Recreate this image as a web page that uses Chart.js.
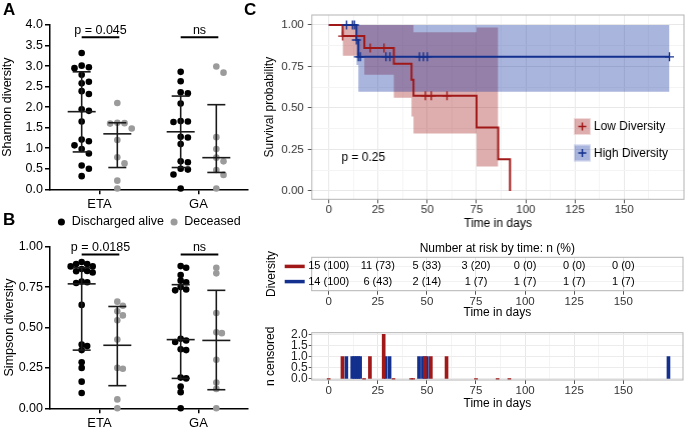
<!DOCTYPE html>
<html>
<head>
<meta charset="utf-8">
<title>Diversity and survival</title>
<script src="https://cdn.jsdelivr.net/npm/chart.js@4.4.1/dist/chart.umd.min.js"></script>
<style>
  html, body { margin: 0; padding: 0; background: #fff; }
  #fig { position: relative; width: 685px; height: 427px; overflow: hidden; }
  .cell { position: absolute; }
  .tag { position: absolute; font: bold 17px "Liberation Sans", Arial, sans-serif; color: #000; }
</style>
</head>
<body>
<div id="fig">
  <!-- a largura extra compensa o recuo que o Chart.js dá à direita nesses gráficos -->
  <div class="cell" style="left:0;top:0;width:252px;height:238.2px"><canvas id="shannon"></canvas></div>
  <div class="cell" style="left:0;top:212px;width:252px;height:215px"><canvas id="simpson"></canvas></div>
  <div class="cell" style="left:250px;top:0;width:438.9px;height:231px"><canvas id="km"></canvas></div>
  <div class="cell" style="left:250px;top:231px;width:435px;height:89px"><canvas id="risk"></canvas></div>
  <div class="cell" style="left:250px;top:320px;width:435px;height:91px"><canvas id="censor"></canvas></div>
  <div class="tag" style="left:3px;top:0">A</div>
  <div class="tag" style="left:3px;top:210px">B</div>
  <div class="tag" style="left:244px;top:0">C</div>
</div>
<script>
// Painéis A/B: diversidade por grupo (pontos + mediana e IQR).
// Painel C: Kaplan-Meier por diversidade, tabela de risco e censuras.

const FONT = '"Liberation Sans", Arial, sans-serif';
Chart.defaults.font.family = FONT;
Chart.defaults.color = '#000';

// ---- dados dos painéis A e B ----
const groupNames = ['ETA', 'GA'];
const outcomeNames = ['Discharged alive', 'Deceased'];
const outcomeColors = ['#000000', '#9b9b9b'];

const shannonEtaAlive = [3.32, 3.01, 2.97, 2.95, 2.79, 2.62, 2.58, 2.39, 2.32, 1.95, 1.91, 1.65, 1.21, 1.17, 1.07, 0.98, 0.87, 0.58, 0.50, 0.32];
const shannonEtaDeceased = [2.10, 1.62, 1.61, 1.60, 1.48, 1.20, 0.78, 0.63, 0.21, 0.02];
const shannonGaAlive = [2.86, 2.63, 2.36, 2.34, 2.09, 1.66, 1.65, 1.64, 1.28, 1.26, 1.10, 0.68, 0.66, 0.50, 0.48, 0.36, 0.02];
const shannonGaDeceased = [2.99, 2.84, 1.27, 0.98, 0.77, 0.68, 0.47, 0.35, 0.02];
const shannonMedian = [1.89, 1.35, 1.40, 0.77];
const shannonQ1 = [0.91, 0.53, 0.53, 0.41];
const shannonQ3 = [2.86, 1.62, 2.27, 2.06];
const shannonSig = ['p = 0.045', 'ns'];

const simpsonEtaAlive = [0.905, 0.893, 0.893, 0.878, 0.878, 0.862, 0.85, 0.848, 0.84, 0.785, 0.78, 0.775, 0.64, 0.395, 0.385, 0.36, 0.285, 0.25, 0.165, 0.095];
const simpsonEtaDeceased = [0.66, 0.635, 0.60, 0.575, 0.545, 0.425, 0.25, 0.245, 0.055, 0.0];
const simpsonGaAlive = [0.88, 0.87, 0.825, 0.79, 0.78, 0.75, 0.735, 0.73, 0.43, 0.42, 0.41, 0.365, 0.36, 0.19, 0.185, 0.135, 0.10, 0.0];
const simpsonGaDeceased = [0.87, 0.835, 0.59, 0.47, 0.465, 0.30, 0.16, 0.12, 0.0];
const simpsonMedian = [0.77, 0.39, 0.425, 0.42];
const simpsonQ1 = [0.36, 0.14, 0.185, 0.115];
const simpsonQ3 = [0.87, 0.63, 0.765, 0.73];
const simpsonSig = ['p = 0.0185', 'ns'];

// ---- dados do painel C ----
const seriesNames = ['Low Diversity', 'High Diversity'];
const kmTimeLow = [0, 7, 18, 33, 42, 43, 75, 86, 92];
const kmSurvLow = [1, 0.933, 0.862, 0.766, 0.670, 0.574, 0.383, 0.191, 0];
const kmTimeHigh = [0, 14, 15, 173];
const kmSurvHigh = [1, 0.909, 0.808, 0.808];
const ciTimeLow = [7, 18, 33, 42, 43, 75, 86];
const ciLowerLow = [0.815, 0.70, 0.562, 0.448, 0.347, 0.147, 0.147];
const ciUpperLow = [1, 1, 1, 1, 0.956, 0.984, 0.984];
const ciTimeHigh = [14, 15, 173];
const ciLowerHigh = [0.759, 0.598, 0.598];
const ciUpperHigh = [1, 1, 1];
const censorTimeLow = [7, 21, 28, 49, 52, 60];
const censorTimeHigh = [9, 12, 13, 14, 15, 16, 29, 31, 46, 48, 50, 173];
const nCensorTimeLow = [0, 7, 18, 21, 28, 33, 42, 43, 49, 52, 60, 75, 86, 92];
const nCensorLow = [0, 1, 0, 1, 2, 0, 0, 0, 1, 1, 1, 0, 0, 0];
const nCensorTimeHigh = [9, 12, 13, 14, 15, 16, 29, 31, 46, 48, 50, 173];
const nCensorHigh = [1, 1, 1, 1, 1, 1, 1, 1, 1, 1, 1, 1];
const riskTimes = [0, 25, 50, 75, 100, 125, 150];
const riskNLow = [15, 11, 5, 3, 0, 0, 0];
const riskPctLow = [100, 73, 33, 20, 0, 0, 0];
const riskNHigh = [14, 6, 2, 1, 1, 1, 1];
const riskPctHigh = [100, 43, 14, 7, 7, 7, 7];
const pValueText = 'p = 0.25';

const RED = '#a01818';
const BLUE = '#14308e';
const RED_BAND = 'rgba(160, 20, 20, 0.35)';
const BLUE_BAND = 'rgba(20, 50, 160, 0.36)';

// ---- painéis A e B ----
const columnX = [0.8, 1.7, 3.3, 4.2]; // ETA vivo, ETA óbito, GA vivo, GA óbito
const groupTickX = [1.25, 3.75];
const PX_PER_X = 198 / 5;

// espalha pontos de valor parecido lado a lado (beeswarm simples)
function swarm(values, pxPerY, dot) {
    const placed = [];
    const offsets = values.map(() => 0);
    const order = values.map((_, i) => i).sort((a, b) => values[b] - values[a]);
    order.forEach((i) => {
        const py = values[i] * pxPerY;
        for (let k = 0; k < 30; k++) {
            const px = Math.ceil(k / 2) * (k % 2 ? 1 : -1) * dot;
            if (placed.every((p) => (p.x - px) ** 2 + (p.y - py) ** 2 >= dot * dot)) {
                placed.push({ x: px, y: py });
                offsets[i] = px / PX_PER_X;
                break;
            }
        }
    });
    return offsets;
}

function medianPlugin(cfg) {
    return {
        id: 'medianIqr',
        afterDatasetsDraw(chart) {
            const { ctx, scales: { x, y } } = chart;
            const seg = (x0, y0, x1, y1) => { ctx.beginPath(); ctx.moveTo(x0, y0); ctx.lineTo(x1, y1); ctx.stroke(); };
            ctx.save();
            ctx.strokeStyle = '#1a1a1a';
            ctx.lineWidth = 1.6;
            cfg.median.forEach((m, i) => {
                const cx = x.getPixelForValue(columnX[i]);
                const a = y.getPixelForValue(cfg.q1[i]);
                const b = y.getPixelForValue(cfg.q3[i]);
                const c = y.getPixelForValue(m);
                seg(cx, a, cx, b);
                seg(cx - 9, a, cx + 9, a);
                seg(cx - 9, b, cx + 9, b);
                seg(cx - 14, c, cx + 14, c);
            });
            ctx.strokeStyle = '#000';
            ctx.lineWidth = 2;
            ctx.fillStyle = '#000';
            ctx.font = '12.5px ' + FONT;
            ctx.textAlign = 'center';
            ctx.textBaseline = 'alphabetic';
            cfg.sig.forEach((txt, g) => {
                const x0 = x.getPixelForValue(columnX[2 * g]);
                const x1 = x.getPixelForValue(columnX[2 * g + 1]) + 2;
                const yy = y.getPixelForValue(cfg.sigY);
                seg(x0, yy, x1, yy);
                ctx.fillText(txt, (x0 + x1) / 2, yy - 3);
            });
            ctx.restore();
        },
    };
}

function dotPlot(canvasId, cfg) {
    const byOutcome = [[], []];
    cfg.columns.forEach((values, col) => {
        const off = swarm(values, cfg.pxPerY, cfg.dot);
        values.forEach((v, i) => byOutcome[col % 2].push({ x: columnX[col] + off[i], y: v }));
    });
    const axisGrid = { drawOnChartArea: false, drawTicks: true, tickLength: 5, color: '#000', lineWidth: 1.5 };
    return new Chart(document.getElementById(canvasId), {
        type: 'scatter',
        data: {
            datasets: outcomeNames.map((name, k) => ({
                label: name,
                data: byOutcome[k],
                backgroundColor: outcomeColors[k],
                borderColor: outcomeColors[k],
                borderWidth: 0,
                pointRadius: 3.3,
                pointStyle: 'circle',
                clip: false,
            })),
        },
        options: {
            responsive: true,
            maintainAspectRatio: false,
            animation: false,
            events: [],
            layout: { padding: cfg.padding },
            plugins: { legend: cfg.legend, tooltip: { enabled: false } },
            scales: {
                x: {
                    type: 'linear', min: 0, max: 5,
                    afterBuildTicks: (s) => { s.ticks = groupTickX.map((v) => ({ value: v })); },
                    afterFit: (s) => { s.height = cfg.xHeight; },
                    ticks: { callback: (v, i) => groupNames[i], font: { size: 13 }, padding: 2, autoSkip: false, maxRotation: 0 },
                    grid: axisGrid,
                    border: { color: '#000', width: 1.5 },
                },
                y: {
                    min: 0, max: cfg.yMax,
                    afterFit: (s) => { s.width = 50; },
                    ticks: { stepSize: cfg.yStep, callback: (v) => v.toFixed(cfg.yDigits), font: { size: 12.5 }, padding: 2 },
                    grid: axisGrid,
                    border: { color: '#000', width: 1.5 },
                    title: { display: true, text: cfg.yTitle, font: { size: 12.5 }, padding: { top: cfg.titlePad, bottom: 0 } },
                },
            },
        },
        plugins: [medianPlugin(cfg)],
    });
}

dotPlot('shannon', {
    columns: [shannonEtaAlive, shannonEtaDeceased, shannonGaAlive, shannonGaDeceased],
    median: shannonMedian, q1: shannonQ1, q3: shannonQ3,
    sig: shannonSig, sigY: 3.7,
    yMax: 4, yStep: 0.5, yDigits: 1, pxPerY: 41, dot: 7.2,
    yTitle: 'Shannon diversity', titlePad: 0,
    padding: { top: 25, right: 2, left: 0, bottom: 0 },
    xHeight: 20.4,
    legend: {
        display: true, position: 'bottom', fullSize: false,
        labels: { usePointStyle: true, boxWidth: 8, boxHeight: 5, padding: 6, color: '#000', font: { size: 12.5 } },
    },
});

dotPlot('simpson', {
    columns: [simpsonEtaAlive, simpsonEtaDeceased, simpsonGaAlive, simpsonGaDeceased],
    median: simpsonMedian, q1: simpsonQ1, q3: simpsonQ3,
    sig: simpsonSig, sigY: 0.952,
    yMax: 1, yStep: 0.25, yDigits: 2, pxPerY: 161.6, dot: 5.5,
    yTitle: 'Simpson diversity', titlePad: 2,
    padding: { top: 34.7, right: 2, left: 0, bottom: 0 },
    xHeight: 18.7,
    legend: { display: false },
});

// ---- painel C ----
const timeMajor = [0, 25, 50, 75, 100, 125, 150];
const timeMinor = [12.5, 37.5, 62.5, 87.5, 112.5, 137.5, 162.5];
const X_MIN = -8.65;
const X_MAX = 180.4;
const isMajorTime = (c) => !!c.tick && timeMajor.includes(c.tick.value);
const isMajorProb = (c) => !!c.tick && (c.tick.value * 4) % 1 === 0;

function survAt(times, surv, t) {
    let s = surv[0];
    times.forEach((tt, i) => { if (tt <= t) s = surv[i]; });
    return s;
}
const pts = (xs, ys) => xs.map((x, i) => ({ x, y: ys[i] }));

function timeAxis(height, withMinor) {
    const all = withMinor ? timeMajor.concat(timeMinor).sort((a, b) => a - b) : timeMajor;
    return {
        type: 'linear', min: X_MIN, max: X_MAX, offset: false,
        afterBuildTicks: (s) => { s.ticks = all.map((v) => ({ value: v })); },
        afterFit: (s) => { s.height = height; },
        ticks: { callback: (v) => (timeMajor.includes(v) ? String(v) : ''), autoSkip: false, maxRotation: 0, font: { size: 11.5 }, color: '#333', padding: 0 },
        grid: {
            offset: false,
            color: (c) => (isMajorTime(c) ? '#e8e8e8' : '#f4f4f4'),
            tickColor: (c) => (isMajorTime(c) ? '#555' : 'rgba(0,0,0,0)'),
            tickLength: 4, lineWidth: 1,
        },
        border: { display: false },
        title: { display: true, text: 'Time in days', font: { size: 12 }, color: '#000', padding: { top: 0, bottom: 0 } },
    };
}

const panelBorder = {
    id: 'panelBorder',
    afterDraw(chart) {
        const { ctx, chartArea: a } = chart;
        ctx.save();
        ctx.strokeStyle = '#b3b3b3';
        ctx.lineWidth = 1;
        ctx.strokeRect(a.left, a.top, a.width, a.height);
        ctx.restore();
    },
};

// p-valor e legenda (quadrado do IC com a cruz da censura)
const kmDecor = {
    id: 'kmDecor',
    afterDraw(chart) {
        const { ctx, chartArea: a, scales: { x, y } } = chart;
        ctx.save();
        ctx.fillStyle = '#000';
        ctx.font = '12px ' + FONT;
        ctx.textAlign = 'center';
        ctx.textBaseline = 'middle';
        ctx.fillText(pValueText, x.getPixelForValue(17.5), y.getPixelForValue(0.2));
        const keys = [[RED_BAND, RED], [BLUE_BAND, BLUE]];
        seriesNames.forEach((name, i) => {
            const kx = a.right - 110;
            const ky = a.top + 103 + i * 26.5;
            ctx.fillStyle = keys[i][0];
            ctx.fillRect(kx, ky, 17, 17);
            ctx.strokeStyle = 'rgba(255,255,255,0.55)';
            ctx.lineWidth = 1;
            ctx.strokeRect(kx + 0.5, ky + 0.5, 16, 16);
            ctx.strokeStyle = keys[i][1];
            ctx.lineWidth = 1.5;
            ctx.beginPath();
            ctx.moveTo(kx + 4.5, ky + 8.5); ctx.lineTo(kx + 12.5, ky + 8.5);
            ctx.moveTo(kx + 8.5, ky + 4.5); ctx.lineTo(kx + 8.5, ky + 12.5);
            ctx.stroke();
            ctx.fillStyle = '#000';
            ctx.textAlign = 'left';
            ctx.fillText(name, kx + 20, ky + 9);
        });
        ctx.restore();
    },
};

const stepLine = (data, color) => ({
    type: 'line', data, borderColor: color, borderWidth: 2, stepped: 'before',
    pointRadius: 0, fill: false, order: 0,
});
const marks = (data, color) => ({
    type: 'scatter', data, pointStyle: 'cross', pointRadius: 4.5,
    borderColor: color, backgroundColor: color, borderWidth: 1.4, order: -1,
});
const band = (data, color, fill, order) => ({
    type: 'line', data, borderWidth: 0, borderColor: 'rgba(0,0,0,0)', backgroundColor: color,
    stepped: 'before', pointRadius: 0, fill, order,
});

new Chart(document.getElementById('km'), {
    type: 'line',
    data: {
        datasets: [
            stepLine(pts(kmTimeLow, kmSurvLow), RED),
            stepLine(pts(kmTimeHigh, kmSurvHigh), BLUE),
            marks(censorTimeLow.map((t) => ({ x: t, y: survAt(kmTimeLow, kmSurvLow, t) })), RED),
            marks(censorTimeHigh.map((t) => ({ x: t, y: survAt(kmTimeHigh, kmSurvHigh, t) })), BLUE),
            band(pts(ciTimeHigh, ciUpperHigh), BLUE_BAND, '+1', 1),
            band(pts(ciTimeHigh, ciLowerHigh), BLUE_BAND, false, 1),
            band(pts(ciTimeLow, ciUpperLow), RED_BAND, '+1', 2),
            band(pts(ciTimeLow, ciLowerLow), RED_BAND, false, 2),
        ],
    },
    options: {
        responsive: true,
        maintainAspectRatio: false,
        animation: false,
        events: [],
        layout: { padding: { top: 15, right: 2, left: 0, bottom: 0 } },
        plugins: { legend: { display: false }, tooltip: { enabled: false } },
        scales: {
            x: timeAxis(31.7, true),
            y: {
                min: -0.05, max: 1.06,
                afterBuildTicks: (s) => {
                    s.ticks = [0, 0.125, 0.25, 0.375, 0.5, 0.625, 0.75, 0.875, 1].map((v) => ({ value: v }));
                },
                afterFit: (s) => { s.width = 61.7; },
                ticks: { callback: (v) => ((v * 4) % 1 === 0 ? v.toFixed(2) : ''), font: { size: 11.5 }, color: '#333', padding: 4, autoSkip: false },
                grid: {
                    color: (c) => (isMajorProb(c) ? '#e8e8e8' : '#f4f4f4'),
                    tickColor: (c) => (isMajorProb(c) ? '#555' : 'rgba(0,0,0,0)'),
                    tickLength: 4,
                },
                border: { display: false },
                title: { display: true, text: 'Survival probability', font: { size: 12 }, padding: { top: 12, bottom: 0 } },
            },
        },
    },
    plugins: [panelBorder, kmDecor],
});

// tabela de risco
const riskRows = [
    { n: riskNLow, pct: riskPctLow, color: RED },
    { n: riskNHigh, pct: riskPctHigh, color: BLUE },
];
const riskText = {
    id: 'riskText',
    afterDraw(chart) {
        const { ctx, chartArea: a, scales: { x, y } } = chart;
        ctx.save();
        ctx.font = '11px ' + FONT;
        ctx.fillStyle = '#000';
        ctx.textAlign = 'center';
        ctx.textBaseline = 'middle';
        riskRows.forEach((row, r) => {
            const yy = y.getPixelForValue(r + 1);
            riskTimes.forEach((t, i) => ctx.fillText(`${row.n[i]} (${row.pct[i]})`, x.getPixelForValue(t), yy));
            ctx.strokeStyle = row.color;
            ctx.lineWidth = 3.5;
            ctx.beginPath();
            ctx.moveTo(a.left - 27, yy);
            ctx.lineTo(a.left - 7, yy);
            ctx.stroke();
        });
        ctx.restore();
    },
};

new Chart(document.getElementById('risk'), {
    type: 'scatter',
    data: { datasets: [] },
    options: {
        responsive: true,
        maintainAspectRatio: false,
        animation: false,
        events: [],
        layout: { padding: { top: 0, right: 2, left: 0, bottom: 0 } },
        plugins: {
            legend: { display: false },
            tooltip: { enabled: false },
            title: {
                display: true, fullSize: false, text: 'Number at risk by time: n (%)',
                font: { size: 12, weight: 'normal' }, color: '#000', padding: { top: 10.7, bottom: 1.2 },
            },
        },
        scales: {
            x: timeAxis(29.3, false),
            y: {
                min: 0.4, max: 2.6, reverse: true,
                afterBuildTicks: (s) => { s.ticks = [1, 2].map((v) => ({ value: v })); },
                afterFit: (s) => { s.width = 61.7; },
                ticks: { display: false },
                grid: { color: '#f2f2f2', drawTicks: false },
                border: { display: false },
                title: { display: true, text: 'Diversity', font: { size: 12 }, padding: { top: 14, bottom: 0 } },
            },
        },
    },
    plugins: [panelBorder, riskText],
});

// censuras por tempo
const censorBars = (times, counts, color) => ({
    type: 'bar', data: pts(times, counts), backgroundColor: color,
    barThickness: 3, minBarLength: 1, grouped: false,
});

new Chart(document.getElementById('censor'), {
    type: 'bar',
    data: {
        datasets: [
            censorBars(nCensorTimeLow, nCensorLow, RED),
            censorBars(nCensorTimeHigh, nCensorHigh, BLUE),
        ],
    },
    options: {
        responsive: true,
        maintainAspectRatio: false,
        animation: false,
        events: [],
        layout: { padding: { top: 12.7, right: 2, left: 0, bottom: 0 } },
        plugins: { legend: { display: false }, tooltip: { enabled: false } },
        scales: {
            x: timeAxis(31, true),
            y: {
                min: -0.045, max: 2.07,
                afterBuildTicks: (s) => { s.ticks = [0, 0.5, 1, 1.5, 2].map((v) => ({ value: v })); },
                afterFit: (s) => { s.width = 61.7; },
                ticks: { callback: (v) => v.toFixed(1), font: { size: 12 }, color: '#222', padding: 1, autoSkip: false },
                grid: { color: '#ececec', tickColor: '#555', tickLength: 3 },
                border: { display: false },
                title: { display: true, text: 'n censored', font: { size: 12 }, padding: { top: 13, bottom: 0 } },
            },
        },
    },
    plugins: [panelBorder],
});
</script>
</body>
</html>
